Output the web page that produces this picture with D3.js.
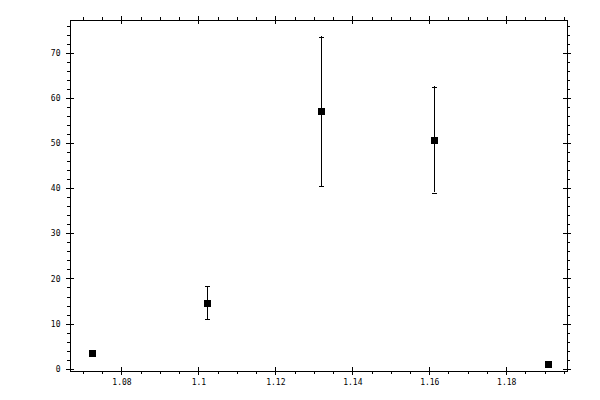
<!DOCTYPE html>
<html>
<head>
<meta charset="utf-8">
<script src="https://cdn.jsdelivr.net/npm/d3@7"></script>
<style>
  body { margin: 0; background: #fff; }
  svg { display: block; }
  .axis text { font-family: "DejaVu Sans Mono", monospace; font-size: 8px; fill: #000; }
  .axis path, .axis line { stroke: #000; shape-rendering: crispEdges; }
</style>
</head>
<body>
<div id="chart"></div>
<script>
// data
var xValues = [1.0723, 1.1022, 1.1317, 1.1610, 1.1907];
var yValues = [3.6, 14.7, 57.2, 50.8, 1.15];
var errLow = [null, 11.1, 40.6, 39.1, null];
var errHigh = [null, 18.4, 73.7, 62.6, null];
var xTicks = [1.08, 1.1, 1.12, 1.14, 1.16, 1.18];
var yTicks = [0, 10, 20, 30, 40, 50, 60, 70];

var width = 600, height = 400;
var margin = { top: 19.5, right: 33, bottom: 29.5, left: 69.5 };
var chartW = width - margin.left - margin.right;
var chartH = height - margin.top - margin.bottom;

var svg = d3.select('#chart').append('svg')
    .attr('width', width)
    .attr('height', height);
var g = svg.append('g')
    .attr('transform', 'translate(' + margin.left + ',' + margin.top + ')');

var xScale = d3.scaleLinear().domain([1.0665, 1.1958]).range([0, chartW]);
var yScale = d3.scaleLinear().domain([-0.4, 77.4]).range([chartH, 0]);

var xMinor = d3.range(1.07, 1.196, 0.005).filter(function (v) {
    return xTicks.every(function (t) { return Math.abs(t - v) > 1e-6; });
});
var yMinor = d3.range(0, 77, 2).filter(function (v) { return v % 10 !== 0; });

var fmtX = function (d) { return String(+d.toFixed(2)); };

function addAxis(axis, transform, cls) {
    var sel = g.append('g').attr('class', 'axis ' + (cls || ''))
        .attr('transform', transform)
        .call(axis);
    return sel;
}

// bottom
addAxis(d3.axisBottom(xScale).tickValues(xTicks).tickFormat(fmtX)
    .tickSize(4).tickSizeOuter(0).tickPadding(5), 'translate(0,' + chartH + ')');
addAxis(d3.axisBottom(xScale).tickValues(xTicks).tickFormat('')
    .tickSize(-4).tickSizeOuter(0), 'translate(0,' + chartH + ')');
addAxis(d3.axisBottom(xScale).tickValues(xMinor).tickFormat('')
    .tickSize(3).tickSizeOuter(0), 'translate(0,' + chartH + ')');
// top
addAxis(d3.axisTop(xScale).tickValues(xTicks).tickFormat('')
    .tickSize(4).tickSizeOuter(0), 'translate(0,0)');
addAxis(d3.axisTop(xScale).tickValues(xTicks).tickFormat('')
    .tickSize(-4).tickSizeOuter(0), 'translate(0,0)');
addAxis(d3.axisTop(xScale).tickValues(xMinor).tickFormat('')
    .tickSize(3).tickSizeOuter(0), 'translate(0,0)');
// left
addAxis(d3.axisLeft(yScale).tickValues(yTicks)
    .tickSize(4).tickSizeOuter(0).tickPadding(5), 'translate(0,0)');
addAxis(d3.axisLeft(yScale).tickValues(yTicks).tickFormat('')
    .tickSize(-4).tickSizeOuter(0), 'translate(0,0)');
addAxis(d3.axisLeft(yScale).tickValues(yMinor).tickFormat('')
    .tickSize(3).tickSizeOuter(0), 'translate(0,0)');
// right
addAxis(d3.axisRight(yScale).tickValues(yTicks).tickFormat('')
    .tickSize(4).tickSizeOuter(0), 'translate(' + chartW + ',0)');
addAxis(d3.axisRight(yScale).tickValues(yTicks).tickFormat('')
    .tickSize(-4).tickSizeOuter(0), 'translate(' + chartW + ',0)');
addAxis(d3.axisRight(yScale).tickValues(yMinor).tickFormat('')
    .tickSize(3).tickSizeOuter(0), 'translate(' + chartW + ',0)');

var points = xValues.map(function (x, i) {
    return { x: x, y: yValues[i], lo: errLow[i], hi: errHigh[i] };
});
var withErr = points.filter(function (d) { return d.lo != null; });

// error bars
var eb = g.selectAll('.err').data(withErr).enter().append('g').attr('class', 'err')
    .attr('stroke', '#000').attr('stroke-width', 1).attr('shape-rendering', 'crispEdges');
eb.append('line')
    .attr('x1', function (d) { return Math.round(xScale(d.x)) + 0.5; })
    .attr('x2', function (d) { return Math.round(xScale(d.x)) + 0.5; })
    .attr('y1', function (d) { return yScale(d.lo); })
    .attr('y2', function (d) { return yScale(d.hi); });
eb.selectAll('.cap').data(function (d) { return [[d.x, d.lo], [d.x, d.hi]]; })
    .enter().append('line').attr('class', 'cap')
    .attr('x1', function (d) { return Math.round(xScale(d[0])) - 2; })
    .attr('x2', function (d) { return Math.round(xScale(d[0])) + 3; })
    .attr('y1', function (d) { return Math.round(yScale(d[1])) + 0.5; })
    .attr('y2', function (d) { return Math.round(yScale(d[1])) + 0.5; });

// square markers
var size = 7;
g.selectAll('.pt').data(points).enter().append('rect')
    .attr('class', 'pt')
    .attr('x', function (d) { return Math.round(xScale(d.x)) - 3; })
    .attr('y', function (d) { return Math.round(yScale(d.y)) - 3; })
    .attr('width', size)
    .attr('height', size)
    .attr('fill', '#000')
    .attr('shape-rendering', 'crispEdges');
</script>
</body>
</html>
